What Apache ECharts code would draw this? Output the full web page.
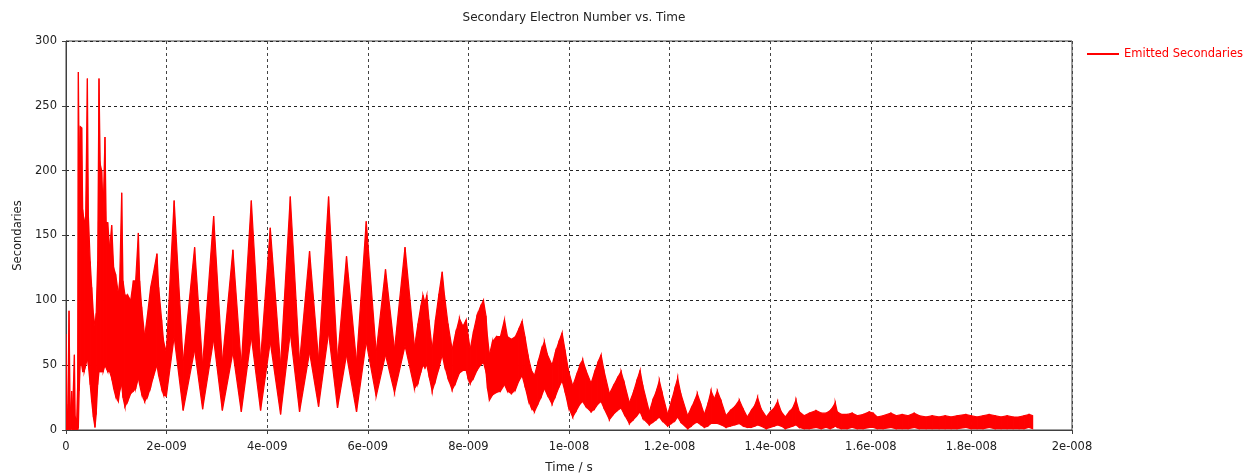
<!DOCTYPE html>
<html>
<head>
<meta charset="utf-8">
<title>Secondary Electron Number vs. Time</title>
<script src="https://cdn.jsdelivr.net/npm/echarts@6/dist/echarts.min.js"></script>
<style>
  html, body { margin: 0; padding: 0; background: #ffffff; }
  #chart { width: 1246px; height: 476px; }
</style>
</head>
<body>
<div id="chart"></div>
<script>
// Emitted secondaries: the trace oscillates far faster than the plot resolution,
// so it is stored as its envelope (min / max per time sample).
// Time in nanoseconds.
const timeNs = [
  0, 0.014, 0.034, 0.060, 0.083, 0.113, 0.133, 0.167, 0.183, 0.213, 0.232, 0.246, 0.262, 0.282, 0.312, 0.332,
  0.362, 0.391, 0.425, 0.445, 0.481, 0.511, 0.544, 0.576, 0.600, 0.630, 0.656, 0.680, 0.709, 0.739, 0.775, 0.799,
  0.829, 0.868, 0.908, 0.948, 0.987, 1.041, 1.067, 1.107, 1.133, 1.172, 1.226, 1.286, 1.339, 1.385, 1.439, 1.464,
  1.504, 1.564, 1.623, 1.683, 1.743, 1.808, 1.842, 1.901, 1.941, 1.995,
  2.150, 2.329, 2.557, 2.716, 2.935, 3.108, 3.318, 3.485, 3.684, 3.868,
  4.061, 4.266, 4.459, 4.643, 4.842, 5.021, 5.220, 5.398, 5.577, 5.776,
  5.969, 6.167, 6.352, 6.531, 6.740, 6.928,
  6.998, 7.057, 7.097, 7.137, 7.173, 7.216, 7.280,
  7.345, 7.415, 7.479, 7.524, 7.594, 7.677,
  7.743, 7.822, 7.892, 7.956, 7.991, 8.035,
  8.101, 8.170, 8.240, 8.299, 8.349, 8.379, 8.418,
  8.478, 8.558, 8.637, 8.717, 8.776, 8.856, 8.935, 9.005, 9.068, 9.124, 9.193, 9.253, 9.313,
  9.382, 9.452, 9.511, 9.571, 9.664,
  9.730, 9.799, 9.863, 9.919, 9.988, 10.074,
  10.147, 10.217, 10.272, 10.336, 10.439,
  10.505, 10.574, 10.638, 10.694, 10.803,
  10.882, 10.962, 11.035, 11.101, 11.200,
  11.280, 11.349, 11.413, 11.468, 11.597,
  11.667, 11.737, 11.796, 11.856, 11.961,
  12.035, 12.104, 12.160, 12.223, 12.359,
  12.432, 12.492, 12.551, 12.621, 12.690,
  12.760, 12.824, 12.889, 12.949, 13.028, 13.121,
  13.207, 13.296, 13.386, 13.465, 13.545,
  13.624, 13.694, 13.749, 13.823, 13.922,
  14.002, 14.081, 14.147, 14.220, 14.300,
  14.379, 14.449, 14.512, 14.578, 14.677,
  14.777, 14.910, 15.015, 15.114, 15.194, 15.253, 15.293, 15.333, 15.412, 15.532,
  15.631, 15.730, 15.850, 15.969, 16.048, 16.128, 16.247, 16.400, 16.505, 16.624,
  16.744, 16.863, 16.962, 17.101, 17.220, 17.359, 17.479, 17.598, 17.717, 17.890,
  17.995, 18.114, 18.234, 18.353, 18.473, 18.591, 18.711, 18.830, 18.949, 19.048,
  19.148, 19.217
];

// Lower edge of the trace (secondaries)
const lowerEnv = [
  0, 0, 0, 1, 0, 1, 0, 0, 0, 0, 0, 2, 30, 50, 50, 45,
  45, 50, 55, 50, 35, 22, 10, 2, 12, 35, 45, 45, 45, 45, 50, 48,
  45, 45, 40, 32, 26, 22, 30, 35, 25, 18, 22, 28, 30, 32, 40, 35,
  28, 22, 26, 33, 42, 50, 42, 32, 27, 26,
  72, 15, 62, 16, 70, 15, 60, 14, 72, 15,
  68, 12, 75, 14, 60, 18, 75, 17, 58, 14,
  68, 26, 58, 29, 65, 32,
  36, 45, 50, 48, 50, 42, 30,
  38, 48, 58, 50, 40, 31,
  36, 44, 46, 46, 40, 36,
  40, 46, 50, 52, 45, 32, 23,
  27, 29, 30, 35, 30, 28, 31, 38, 42, 34, 23, 17, 14,
  20, 26, 32, 27, 20,
  26, 33, 38, 30, 18, 10,
  15, 20, 22, 18, 14,
  16, 20, 22, 17, 8,
  12, 15, 17, 12, 5,
  8, 11, 14, 9, 4,
  6, 8, 10, 7, 3,
  5, 7, 10, 6, 1,
  3, 5, 6, 4, 2,
  3, 5, 5, 5, 4, 2,
  3, 4, 5, 3, 2,
  2, 3, 4, 3, 1,
  2, 3, 4, 3, 1,
  2, 3, 4, 2, 1,
  1, 2, 1, 2, 1, 2, 3, 2, 1, 1,
  2, 1, 1, 2, 2, 1, 1, 2, 1, 1,
  1, 2, 1, 1, 1, 1, 1, 1, 1, 2,
  1, 1, 1, 2, 1, 1, 1, 1, 1, 1,
  2, 1
];

// Upper edge of the trace (secondaries)
const upperEnv = [
  74, 20, 10, 92, 12, 30, 16, 58, 10, 8, 35, 276, 200, 234, 233, 170,
  160, 165, 271, 165, 130, 110, 90, 80, 90, 130, 271, 205, 200, 170, 226, 160,
  160, 140, 158, 125, 120, 105, 115, 183, 115, 104, 104, 100, 115, 115, 152, 115,
  95, 72, 90, 110, 122, 136, 110, 85, 68, 60,
  177, 52, 141, 50, 165, 52, 139, 50, 177, 54,
  156, 50, 180, 52, 138, 54, 180, 54, 134, 52,
  161, 60, 124, 62, 141, 64,
  82, 96, 104, 98, 104, 85, 62,
  85, 105, 122, 104, 82, 62,
  74, 86, 80, 85, 74, 62,
  76, 88, 95, 100, 88, 72, 58,
  68, 72, 72, 85, 72, 70, 72, 78, 84, 72, 56, 46, 42,
  52, 62, 68, 58, 50,
  60, 68, 75, 62, 46, 34,
  42, 50, 54, 46, 36,
  44, 52, 58, 46, 28,
  34, 40, 45, 36, 21,
  29, 38, 46, 34, 14,
  23, 30, 38, 28, 12,
  22, 32, 40, 28, 11,
  17, 22, 28, 20, 12,
  20, 30, 24, 30, 22, 11,
  15, 18, 23, 16, 10,
  15, 19, 25, 16, 10,
  14, 17, 22, 14, 10,
  14, 17, 23, 14, 11,
  13, 15, 13, 13, 15, 18, 21, 14, 12, 12,
  13, 11, 12, 14, 13, 10, 11, 13, 11, 12,
  11, 13, 11, 10, 11, 10, 11, 10, 11, 12,
  11, 10, 11, 12, 11, 10, 11, 10, 10, 11,
  12, 11
];

// Axis ranges and tick steps
const timeAxisMax = 2e-8;
const timeAxisStep = 2e-9;
const countAxisMax = 300;
const countAxisStep = 50;

const seriesName = 'Emitted Secondaries';
const red = '#ff0000';
const fontFamily = '"DejaVu Sans", Verdana, sans-serif';

// C-style exponent label, e.g. 2e-009
function sciLabel(v) {
  if (Math.abs(v) < 1e-20) return '0';
  const parts = v.toExponential(6).split('e');
  const mant = String(parseFloat(parts[0]));
  const exp = parseInt(parts[1], 10);
  const sign = exp < 0 ? '-' : '+';
  return mant + 'e' + sign + String(Math.abs(exp)).padStart(3, '0');
}

// one row per time sample: [time in s, lower edge, upper edge]
const envelopeData = timeNs.map((t, i) => [t * 1e-9, lowerEnv[i], upperEnv[i]]);

// Fills the strip between the lower and upper edge from one sample to the next.
function renderEnvelope(params, api) {
  const i = params.dataIndexInside;
  if (i >= params.dataInsideLength - 1) return null;
  const t0 = api.value(0, i), t1 = api.value(0, i + 1);
  const a = api.coord([t0, api.value(1, i)]);
  const b = api.coord([t1, api.value(1, i + 1)]);
  const c = api.coord([t1, api.value(2, i + 1)]);
  const d = api.coord([t0, api.value(2, i)]);
  return {
    type: 'polygon',
    shape: { points: [a, b, c, d] },
    style: { fill: red, stroke: red, lineWidth: 1.2 },
    silent: true
  };
}

const chart = echarts.init(document.getElementById('chart'), null, { renderer: 'canvas' });

chart.setOption({
  animation: false,
  backgroundColor: '#ffffff',
  textStyle: { fontFamily: fontFamily },
  title: {
    text: 'Secondary Electron Number vs. Time',
    left: 569,
    top: 7,
    textAlign: 'center',
    textStyle: { fontFamily: fontFamily, fontSize: 12, fontWeight: 'normal', color: '#222222' }
  },
  legend: {
    data: [seriesName],
    left: 1087,
    top: 48,
    padding: 0,
    icon: 'rect',
    itemWidth: 32,
    itemHeight: 2,
    itemGap: 6,
    itemStyle: { color: red },
    textStyle: { fontFamily: fontFamily, fontSize: 11.5, color: red }
  },
  grid: {
    left: 66,
    right: 174,
    top: 41,
    bottom: 46,
    outerBoundsMode: 'none',
    containLabel: false,
    show: true,
    borderColor: '#404040',
    borderWidth: 1,
    backgroundColor: '#ffffff'
  },
  xAxis: {
    type: 'value',
    min: 0,
    max: timeAxisMax,
    interval: timeAxisStep,
    name: 'Time / s',
    nameLocation: 'middle',
    nameGap: 32,
    nameTextStyle: { fontFamily: fontFamily, fontSize: 12, color: '#222222' },
    axisLine: { show: true, lineStyle: { color: '#404040', width: 1 } },
    axisTick: { show: true, inside: false, length: 4, lineStyle: { color: '#404040' } },
    axisLabel: {
      margin: 11,
      fontFamily: fontFamily,
      fontSize: 11.5,
      color: '#222222',
      formatter: sciLabel
    },
    splitLine: { show: true, lineStyle: { color: '#444444', type: [3, 3], width: 1 } }
  },
  yAxis: {
    type: 'value',
    min: 0,
    max: countAxisMax,
    interval: countAxisStep,
    name: 'Secondaries',
    nameLocation: 'middle',
    nameGap: 42,
    nameRotate: 90,
    nameTextStyle: { fontFamily: fontFamily, fontSize: 11.5, color: '#222222' },
    axisLine: { show: true, lineStyle: { color: '#404040', width: 1 } },
    axisTick: { show: true, inside: false, length: 4, lineStyle: { color: '#404040' } },
    axisLabel: { margin: 9, fontFamily: fontFamily, fontSize: 11.5, color: '#222222' },
    splitLine: { show: true, lineStyle: { color: '#222222', type: [3, 3], width: 1 } }
  },
  series: [
    {
      name: seriesName,
      type: 'custom',
      renderItem: renderEnvelope,
      data: envelopeData,
      encode: { x: 0, y: [1, 2] },
      itemStyle: { color: red },
      clip: true,
      z: 3
    }
  ]
});
</script>
</body>
</html>
